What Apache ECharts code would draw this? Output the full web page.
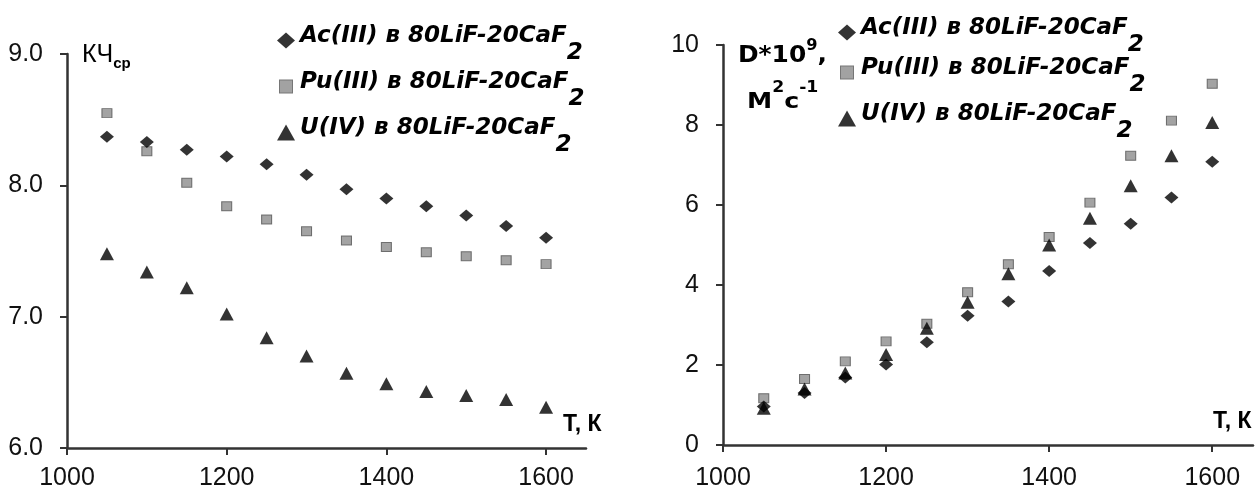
<!DOCTYPE html>
<html>
<head>
<meta charset="utf-8">
<script src="https://cdn.jsdelivr.net/npm/echarts@6/dist/echarts.min.js"></script>
<style>
  html, body { margin: 0; padding: 0; background: #fff; }
  #chart { width: 1260px; height: 492px; }
</style>
</head>
<body>
<div id="chart"></div>
<script>
// ---- data ----
const temps = [1050, 1100, 1150, 1200, 1250, 1300, 1350, 1400, 1450, 1500, 1550, 1600];
const seriesNames = ['Ac(III) в 80LiF-20CaF2', 'Pu(III) в 80LiF-20CaF2', 'U(IV) в 80LiF-20CaF2'];
// left chart: КЧ (average coordination number)
const kchAc = [8.37, 8.33, 8.27, 8.22, 8.16, 8.08, 7.97, 7.90, 7.84, 7.77, 7.69, 7.60];
const kchPu = [8.55, 8.26, 8.02, 7.84, 7.74, 7.65, 7.58, 7.53, 7.49, 7.46, 7.43, 7.40];
const kchU  = [7.48, 7.34, 7.22, 7.02, 6.84, 6.70, 6.57, 6.49, 6.43, 6.40, 6.37, 6.31];
// right chart: D*10^9, m2/s
const dAc = [0.96, 1.30, 1.69, 2.01, 2.57, 3.23, 3.59, 4.35, 5.05, 5.53, 6.19, 7.08];
const dPu = [1.17, 1.65, 2.09, 2.59, 3.03, 3.82, 4.52, 5.20, 6.06, 7.23, 8.11, 9.03];
const dU  = [0.92, 1.40, 1.80, 2.26, 2.92, 3.57, 4.28, 5.00, 5.67, 6.48, 7.23, 8.06];
const xTicks = [1000, 1200, 1400, 1600];

const pairs = (xs, ys) => xs.map((x, i) => [x, ys[i]]);

const AXIS = '#333';
const TXT = '#111';
const sqSvg = '<svg xmlns="http://www.w3.org/2000/svg" width="18" height="16" viewBox="0 0 18 16"><rect x="2.5" y="1.5" width="13" height="13" fill="#8c8c8c" stroke="#555" stroke-width="1"/></svg>';
const sqIcon = 'image://data:image/svg+xml;charset=utf-8,' + encodeURIComponent(sqSvg);
const legendIcons = ['diamond', sqIcon, 'triangle'];

function xAxisCfg(gi, margin) {
  return {
    type: 'value', gridIndex: gi, min: 1000, max: 1650, interval: 200,
    axisLine: { show: true, lineStyle: { color: AXIS, width: 2.5 } },
    axisTick: { show: true, length: 7, lineStyle: { color: AXIS, width: 2 }, customValues: xTicks },
    axisLabel: { margin: margin, fontSize: 25, fontFamily: 'Liberation Sans', color: TXT, customValues: xTicks, formatter: v => String(v) },
    splitLine: { show: false }
  };
}
function yAxisCfg(gi, min, max, interval, fmt) {
  return {
    type: 'value', gridIndex: gi, min: min, max: max, interval: interval,
    axisLine: { show: true, lineStyle: { color: AXIS, width: 2.5 } },
    axisTick: { show: true, length: 7, lineStyle: { color: AXIS, width: 2 } },
    axisLabel: { margin: 24, fontSize: 25, fontFamily: 'Liberation Sans', color: TXT, formatter: fmt },
    splitLine: { show: false }
  };
}

const legFont = { fontFamily: 'DejaVu Sans', fontStyle: 'italic', fontWeight: 'bold', fontSize: 23, color: '#000' };
function legendItem(idx, left, top) {
  return {
    left: left, top: top, orient: 'vertical', padding: 0,
    itemWidth: 18, itemHeight: 16, symbolKeepAspect: false, selectedMode: false,
    data: [{ name: seriesNames[idx], icon: legendIcons[idx] }],
    formatter: n => '{m|' + n.slice(0, -1) + '}{s|' + n.slice(-1) + '}',
    textStyle: Object.assign({}, legFont, {
      rich: {
        m: Object.assign({}, legFont, { padding: [0, 0, 8, 0] }),
        s: Object.assign({}, legFont, { padding: [26, 0, 0, 0] })
      }
    })
  };
}

const diamond = { symbol: 'diamond', symbolSize: [14, 12], itemStyle: { color: '#000' } };
const square = { symbol: 'rect', symbolSize: [10, 9], itemStyle: { color: '#8c8c8c', borderColor: '#555', borderWidth: 1 } };
const tri = { symbol: 'triangle', symbolSize: [14, 13], itemStyle: { color: '#000' } };

function sc(name, gi, data, st) {
  return Object.assign({ type: 'scatter', name: name, xAxisIndex: gi, yAxisIndex: gi, data: data, animation: false }, st);
}

const boldAr = { fontFamily: 'DejaVu Sans', fontWeight: 'bold', fill: '#000' };

const option = {
  backgroundColor: '#fff',
  animation: false,
  grid: [
    { left: 67, top: 54, width: 519, height: 394 },
    { left: 723, top: 45, width: 530, height: 400 }
  ],
  xAxis: [xAxisCfg(0, 18), xAxisCfg(1, 21)],
  yAxis: [
    yAxisCfg(0, 6, 9, 1, v => v.toFixed(1)),
    yAxisCfg(1, 0, 10, 2, v => String(v))
  ],
  legend: [
    legendItem(0, 277, 25), legendItem(1, 277, 71), legendItem(2, 277, 117),
    legendItem(0, 838, 17), legendItem(1, 838, 57), legendItem(2, 838, 103)
  ],
  series: [
    sc(seriesNames[1], 0, pairs(temps, kchPu), square),
    sc(seriesNames[0], 0, pairs(temps, kchAc), diamond),
    sc(seriesNames[2], 0, pairs(temps, kchU), tri),
    sc(seriesNames[1], 1, pairs(temps, dPu), square),
    sc(seriesNames[0], 1, pairs(temps, dAc), diamond),
    sc(seriesNames[2], 1, pairs(temps, dU), tri)
  ],
  graphic: [
    { type: 'text', x: 82, y: 55, style: {
        text: '{a|КЧ}{b|ср}', verticalAlign: 'middle', fill: '#000',
        rich: {
          a: { fontFamily: 'Liberation Sans', fontSize: 25, fill: '#000' },
          b: { fontFamily: 'Liberation Sans', fontWeight: 'bold', fontSize: 15, fill: '#000', padding: [18, 0, 0, 0] }
        } } },
    { type: 'text', x: 738, y: 56, scaleX: 1.08, style: {
        text: '{a|D*10}{s|9}{a|,}', verticalAlign: 'middle',
        rich: {
          a: Object.assign({}, boldAr, { fontSize: 23 }),
          s: Object.assign({}, boldAr, { fontSize: 15, padding: [0, 0, 20, 0] })
        } } },
    { type: 'text', x: 747, y: 102, scaleX: 1.15, style: {
        text: '{a|М}{s|2}{a|с}{s|-1}', verticalAlign: 'middle',
        rich: {
          a: Object.assign({}, boldAr, { fontSize: 22 }),
          s: Object.assign({}, boldAr, { fontSize: 15, padding: [0, 0, 28, 0] })
        } } },
    { type: 'text', x: 563, y: 425, style: { text: 'Т, К', verticalAlign: 'middle', fontFamily: 'Liberation Sans', fontWeight: 'bold', fontSize: 23, fill: '#000' } },
    { type: 'text', x: 1213, y: 422, style: { text: 'Т, К', verticalAlign: 'middle', fontFamily: 'Liberation Sans', fontWeight: 'bold', fontSize: 23, fill: '#000' } }
  ]
};

const chart = echarts.init(document.getElementById('chart'), null, { renderer: 'canvas' });
chart.setOption(option);
</script>
</body>
</html>
